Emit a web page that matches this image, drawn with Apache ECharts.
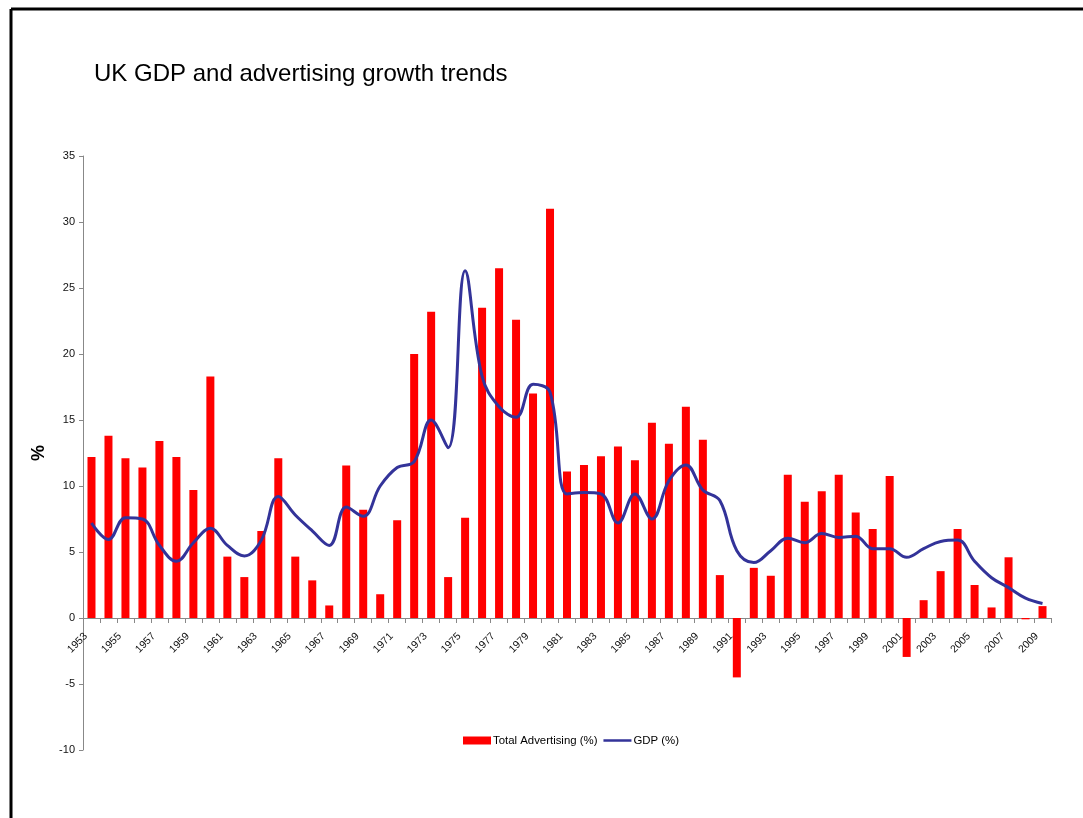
<!DOCTYPE html>
<html>
<head>
<meta charset="utf-8">
<script src="https://cdn.jsdelivr.net/npm/echarts@6/dist/echarts.min.js"></script>
<style>
html,body{margin:0;padding:0;background:#fff;}
#chart{width:1083px;height:818px;}
</style>
</head>
<body>
<div id="chart"></div>
<script>
const years = [];
for (let y = 1953; y <= 2009; y++) years.push(String(y));

const advertising = [
  12.2, 13.8, 12.1, 11.4, 13.4, 12.2, 9.7, 18.3, 4.65, 3.1,
  6.6, 12.1, 4.65, 2.85, 0.95, 11.55, 8.2, 1.8,
  7.4, 20.0, 23.2, 3.1, 7.6, 23.5, 26.5, 22.6, 17.0, 31.0,
  11.1, 11.6, 12.25, 13.0, 11.95, 14.8, 13.2, 16.0, 13.5, 3.25,
  -4.5, 3.8, 3.2, 10.85, 8.8, 9.6, 10.85, 8.0, 6.75, 10.75,
  -2.95, 1.35, 3.55, 6.75, 2.5, 0.8, 4.6, -0.1, 0.9
];

const gdp = [
  7.2, 5.95, 7.6, 7.5, 5.5, 4.3, 5.7, 6.8, 5.5, 4.7,
  5.9, 9.2, 7.8, 6.6, 5.5, 8.4, 7.7, 10.0,
  11.4, 11.85, 15.0, 12.9, 26.3, 18.3, 16.0, 15.2, 17.7, 17.1,
  9.4, 9.5, 9.4, 7.2, 9.4, 7.5, 10.4, 11.6, 9.7, 8.9,
  5.1, 4.2, 5.1, 6.05, 5.7, 6.4, 6.1, 6.2, 5.25, 5.25,
  4.6, 5.25, 5.8, 5.9, 4.3, 3.05, 2.3, 1.5, 1.1
];

const seriesNames = ['Total Advertising (%)', 'GDP (%)'];
const titleText = 'UK GDP and advertising growth trends';

const FONT = '"Liberation Sans", Arial, sans-serif';
const Y_MIN = -10, Y_MAX = 35;
const GRID_TOP = 156, GRID_BOTTOM = 68, H = 818;
const plotH = H - GRID_TOP - GRID_BOTTOM;
const zeroOffset = -plotH * (0 - Y_MIN) / (Y_MAX - Y_MIN);

const chart = echarts.init(document.getElementById('chart'), null, {renderer: 'canvas'});
chart.setOption({
  backgroundColor: '#ffffff',
  animation: false,
  textStyle: {fontFamily: FONT},
  title: {
    text: titleText,
    left: 89,
    top: 57,
    textStyle: {fontFamily: FONT, fontSize: 24, fontWeight: 'normal', color: '#000'}
  },
  graphic: [
    {type: 'line', shape: {x1: 11, y1: 9, x2: 1083, y2: 9}, style: {stroke: '#000', lineWidth: 3}},
    {type: 'line', shape: {x1: 11, y1: 9, x2: 11, y2: 818}, style: {stroke: '#000', lineWidth: 3}}
  ],
  legend: {
    left: 458,
    top: 730,
    itemGap: 6,
    itemWidth: 28,
    itemHeight: 8,
    textStyle: {fontFamily: FONT, fontSize: 11.4, color: '#000', padding: [0, 0, 0, -3]},
    data: [
      {name: seriesNames[0], icon: 'rect'},
      {name: seriesNames[1], icon: 'path://M0,0L0.01,0M0,2.8L28,2.8L28,5.2L0,5.2ZM27.99,8L28,8'}
    ]
  },
  grid: {left: 83, right: 32, top: GRID_TOP, bottom: GRID_BOTTOM, containLabel: false},
  xAxis: {
    type: 'category',
    data: years,
    boundaryGap: true,
    offset: zeroOffset,
    axisLine: {onZero: false, lineStyle: {color: '#888', width: 1}},
    axisTick: {show: true, interval: 0, length: 5, lineStyle: {color: '#888'}},
    axisLabel: {interval: 1, rotate: 45, fontSize: 10.5, color: '#111', fontFamily: FONT, margin: 11, padding: [0, 8, 0, 0]}
  },
  yAxis: {
    type: 'value',
    min: Y_MIN,
    max: Y_MAX,
    interval: 5,
    name: '%',
    nameLocation: 'middle',
    nameRotate: 90,
    nameGap: 22,
    nameTextStyle: {fontFamily: FONT, fontSize: 18, fontWeight: 'bold', color: '#000'},
    splitLine: {show: false},
    axisLine: {show: true, lineStyle: {color: '#888', width: 1}},
    axisTick: {show: true, length: 4, lineStyle: {color: '#888'}},
    axisLabel: {fontSize: 11, color: '#111', fontFamily: FONT, margin: 8}
  },
  series: [
    {
      name: seriesNames[0],
      type: 'bar',
      data: advertising,
      barWidth: 8,
      itemStyle: {color: '#ff0000'}
    },
    {
      name: seriesNames[1],
      type: 'line',
      data: gdp,
      smooth: 0.4,
      symbol: 'none',
      lineStyle: {color: '#333399', width: 3},
      itemStyle: {color: '#333399'}
    }
  ]
});
</script>
</body>
</html>
